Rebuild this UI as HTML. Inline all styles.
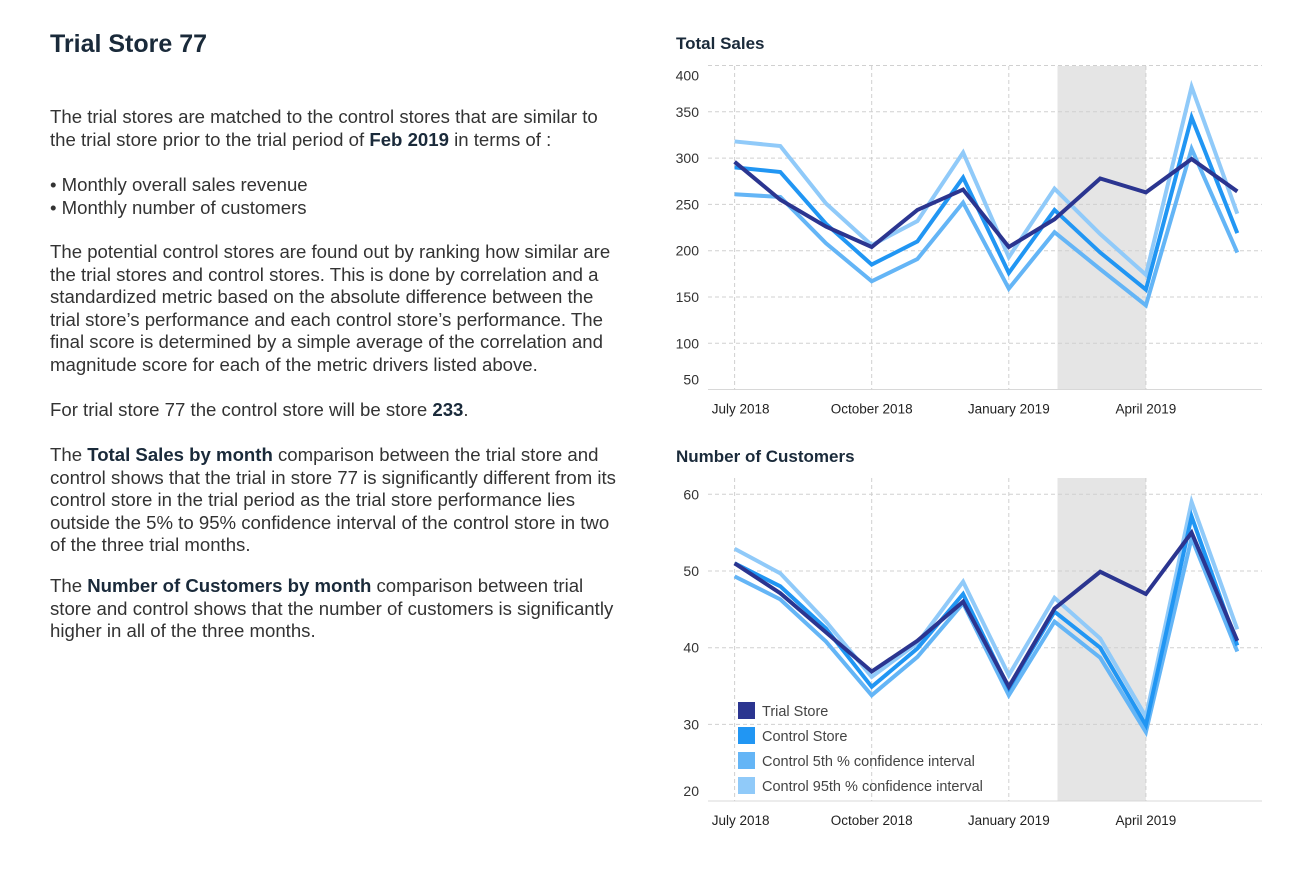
<!DOCTYPE html>
<html><head><meta charset="utf-8">
<style>
body{margin:0;width:1311px;height:887px;background:#fff;overflow:hidden;font-family:"Liberation Sans",Arial,sans-serif;}
#left{position:absolute;left:50px;top:0;width:620px;color:#333;font-size:18.6px;line-height:22.6px;}
h1{position:absolute;left:50px;top:30px;margin:0;font-size:25px;color:#1a2a3a;font-weight:bold;}
.p{position:absolute;left:0;white-space:nowrap;}
b{color:#1a2a3a}
svg{position:absolute;left:0;top:0}
</style></head>
<body>
<h1>Trial Store 77</h1>
<div id="left">
<div class="p" style="top:106px">The trial stores are matched to the control stores that are similar to<br>the trial store prior to the trial period of <b>Feb 2019</b> in terms of :</div>
<div class="p" style="top:174px">• Monthly overall sales revenue<br>• Monthly number of customers</div>
<div class="p" style="top:241px">The potential control stores are found out by ranking how similar are<br>the trial stores and control stores. This is done by correlation and a<br>standardized metric based on the absolute difference between the<br>trial store’s performance and each control store’s performance. The<br>final score is determined by a simple average of the correlation and<br>magnitude score for each of the metric drivers listed above.</div>
<div class="p" style="top:399px">For trial store 77 the control store will be store <b>233</b>.</div>
<div class="p" style="top:444px">The <b>Total Sales by month</b> comparison between the trial store and<br>control shows that the trial in store 77 is significantly different from its<br>control store in the trial period as the trial store performance lies<br>outside the 5% to 95% confidence interval of the control store in two<br>of the three trial months.</div>
<div class="p" style="top:575px">The <b>Number of Customers by month</b> comparison between trial<br>store and control shows that the number of customers is significantly<br>higher in all of the three months.</div>
</div>
<svg id="chart" width="1311" height="887"></svg>
<script>
const months=12;
const xTickIdx=[0,3,6,9];
const xTickLabels=["July 2018","October 2018","January 2019","April 2019"];
const seriesNames=["Control 95th % confidence interval","Control 5th % confidence interval","Control Store","Trial Store"];
const seriesColors=["#90caf9","#64b5f6","#2196f3","#2b3590"];
const salesTicks=[50,100,150,200,250,300,350,400];
const sales95=[318,313,251,206,232,306,193,267,218,174,377,240];
const sales5=[261,258,208,167,191,252,159,220,180,141,310,198];
const salesControl=[290,285,229,185,210,279,176,244,198,158,344,219];
const salesTrial=[296,255,226,204,244,266,204,234,278,263,299,264];
const custTicks=[20,30,40,50,60];
const cust95=[52.9,49.7,43.4,36.2,40.6,48.6,36.4,46.5,41.2,31,59,42.4];
const cust5=[49.3,46.3,40.8,33.8,38.8,45.8,33.8,43.4,38.7,29,54.3,39.5];
const custControl=[51,48,42.5,34.9,39.9,47,34.7,44.7,40,29.9,57.1,40.3];
const custTrial=[51,47.1,42,36.9,40.9,46,34.9,45.1,49.9,47,55,40.9];
const trialStart=7, trialEnd=9;

const svg=document.getElementById('chart');
const NS='http://www.w3.org/2000/svg';
function mk(tag,attrs,parent){const e=document.createElementNS(NS,tag);for(const k in attrs)e.setAttribute(k,attrs[k]);(parent||svg).appendChild(e);return e;}
const xs=i=>734.6+i*45.7;

function chart(cfg){
  const g=mk('g',{});
  
  
  const y=v=>cfg.y0-(v-cfg.v0)*cfg.k;
  const t=mk('text',{x:676,y:cfg.titleY,'font-size':17,'font-weight':'bold',fill:'#1a2a3a'},g);
  t.textContent=cfg.title;
  
  
  const sh=mk('rect',{x:xs(cfg.ts)+3,y:cfg.top,width:xs(cfg.te)-xs(cfg.ts)-3,height:cfg.bottom-cfg.top,fill:'#e5e5e5'},g);
  
  
  cfg.ticks.forEach((v,j)=>{
    const yy=y(v);
    if(j>0){const l=mk('line',{x1:708,x2:1262,y1:yy,y2:yy,stroke:'#d0d0d0','stroke-dasharray':'4,3'},g);
    
    }
    let ly=yy+5; if(j==0) ly=yy-5; if(j==cfg.ticks.length-1) ly=yy+cfg.topShift;
    const tx=mk('text',{x:699,y:ly,'font-size':14,fill:'#333','text-anchor':'end'},g);
    tx.textContent=v;
    
    
  });
  const ax=mk('line',{x1:708,x2:1262,y1:cfg.bottom,y2:cfg.bottom,stroke:'#d8d8d8'},g);
  
  
  xTickIdx.forEach((i,j)=>{
    const l=mk('line',{x1:xs(i),x2:xs(i),y1:cfg.top,y2:cfg.bottom,stroke:'#d0d0d0','stroke-dasharray':'4,3'},g);
    
    
    const tx=mk('text',{x:xs(i)+(j==0?6:0),y:cfg.bottom+24,'font-size':13.5,fill:'#222','text-anchor':'middle'},g);
    tx.textContent=xTickLabels[j];
    
    
  });
  cfg.series.forEach((arr,s)=>{
    const p=mk('polyline',{points:arr.map((v,i)=>xs(i)+','+y(v)).join(' '),fill:'none',stroke:seriesColors[s],'stroke-width':4,'stroke-linejoin':'miter'},g);
    
    
  });
}
chart({name:'total-sales-chart',title:'Total Sales',titleY:49,top:66,bottom:389.5,y0:250.7,v0:200,k:0.926,ticks:salesTicks,series:[sales95,sales5,salesControl,salesTrial],ts:trialStart,te:trialEnd,topShift:15});
chart({name:'customers-chart',title:'Number of Customers',titleY:462,top:478,bottom:801,y0:647.7,v0:40,k:7.67,ticks:custTicks,series:[cust95,cust5,custControl,custTrial],ts:trialStart,te:trialEnd,topShift:5});

const legendOrder=[3,2,1,0];
legendOrder.forEach((s,j)=>{
  const g=mk('g',{});
  
  
  mk('rect',{x:738,y:702+j*25,width:17,height:17,fill:seriesColors[s]},g);
  const t=mk('text',{x:762,y:716+j*25,'font-size':14.5,fill:'#444'},g);
  t.textContent=seriesNames[s];
});
</script>
</body></html>
